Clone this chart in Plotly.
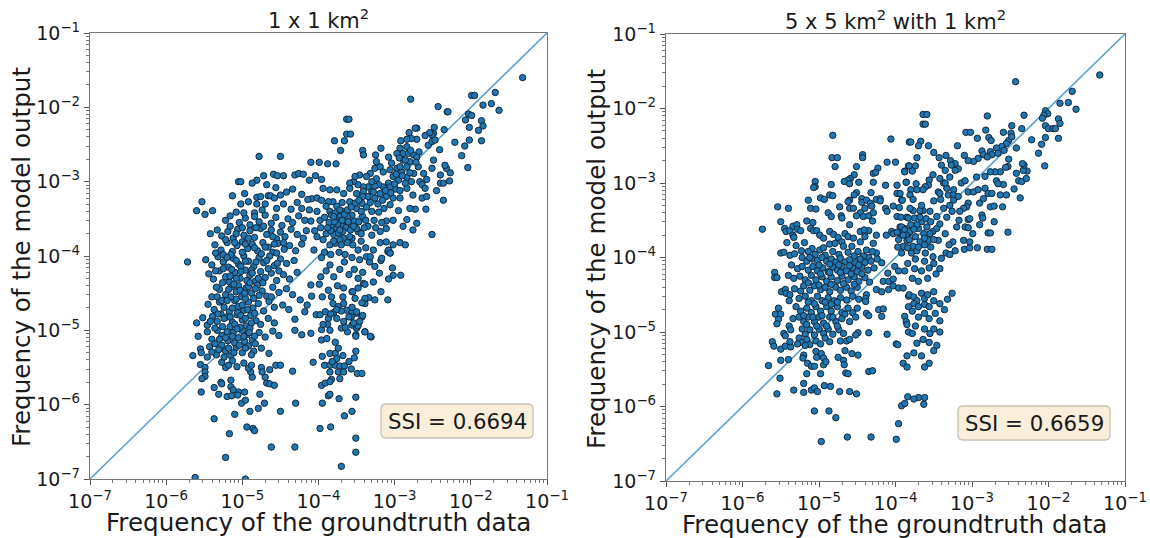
import plotly.graph_objects as go

# All values are log10(frequency) as (groundtruth, model output).
left_sparse = [
(-1.32,-1.60),(-2.79,-1.89),(-2.43,-1.99),(-2.31,-2.06),(-2.30,-2.06),(-1.99,-1.84),(-1.95,-1.84),(-1.68,-1.80),(-1.84,-1.97),(-1.73,-1.95),(-1.63,-2.04),
(-2.03,-2.09),(-1.99,-2.11),(-2.07,-2.17),(-1.86,-2.18),(-1.84,-2.25),(-1.90,-2.31),(-2.02,-2.27),(-2.02,-2.44),(-1.86,-2.45),(-2.21,-2.47),(-2.08,-2.52),(-2.12,-2.65),(-2.04,-2.81),
(-2.35,-2.30),(-2.48,-2.27),(-2.49,-2.35),(-2.51,-2.37),(-3.63,-2.16),(-3.60,-2.16),(-3.63,-2.36),(-3.58,-2.36),(-3.79,-2.45),(-3.66,-2.45),(-3.71,-2.58),
(-4.10,-2.74),(-3.99,-2.74),(-3.88,-2.76),(-3.77,-2.76),(-3.42,-2.58),(-3.41,-2.64),(-3.18,-2.55),(-3.25,-2.64),(-2.71,-2.28),(-2.73,-2.28),(-2.81,-2.34),(-2.92,-2.45),
(-4.78,-2.66),(-4.50,-2.66),(-4.72,-2.92),(-4.81,-2.98),(-4.87,-3.02),(-5.05,-3.00),(-5.02,-3.00),(-4.59,-2.90),(-4.54,-2.92),(-4.46,-2.92),(-4.31,-2.91),(-4.26,-2.89),(-4.20,-2.90),
(-4.12,-2.98),(-4.04,-2.92),(-3.96,-2.97),(-5.13,-3.19),(-4.97,-3.16),(-4.81,-3.21),(-4.76,-3.20),(-4.66,-3.19),(-4.63,-3.19),(-5.53,-3.27),(-5.60,-3.39),(-5.49,-3.44),(-5.39,-3.39),
(-5.02,-3.30),(-4.92,-3.27),(-5.08,-3.41),(-4.84,-3.42),(-4.81,-3.30),(-5.72,-4.08),
(-5.65,-5.34),(-5.55,-5.25),(-5.55,-5.46),(-5.49,-5.50),(-5.49,-5.56),(-5.49,-5.62),(-5.53,-5.65),(-5.54,-5.83),(-5.37,-5.77),(-5.31,-5.86),(-5.28,-5.70),(-5.37,-6.19),(-5.10,-6.13),
(-5.17,-6.39),(-5.22,-6.71),(-5.62,-6.98),(-4.96,-7.00),(-4.94,-6.30),(-4.86,-6.32),(-4.84,-6.35),(-4.62,-6.57),(-4.31,-6.57),(-4.90,-6.09),(-4.79,-6.05),(-4.71,-5.98),(-4.50,-6.09),(-4.30,-5.98),
(-4.77,-5.86),(-5.01,-5.98),(-4.96,-5.94),(-4.97,-5.83),(-5.05,-5.83),(-5.20,-5.89),(-5.14,-5.88),(-5.06,-5.87),(-5.15,-5.76),(-5.12,-5.80),(-5.27,-5.72),(-5.15,-5.67),
(-4.68,-5.71),(-4.64,-5.72),(-4.58,-5.74),(-4.70,-5.63),(-4.87,-5.63),(-4.89,-5.56),(-4.92,-5.51),(-4.75,-5.50),(-4.74,-5.56),(-4.64,-5.53),(-4.56,-5.47),(-4.50,-5.47),(-4.34,-5.55),
(-3.98,-6.32),(-3.84,-6.30),(-3.51,-6.64),(-3.70,-6.83),(-3.66,-6.15),(-3.56,-6.09),(-3.95,-5.98),(-3.73,-5.92),(-3.87,-5.88),(-3.85,-5.86),
(-2.92,-4.26),(-3.02,-4.26),(-3.03,-4.16),(-3.08,-4.31),(-3.18,-4.48),(-3.09,-4.59),(-3.18,-4.06),(-3.06,-3.96),(-3.09,-3.94),(-3.20,-4.23),(-3.26,-4.14),(-3.33,-4.08),
(-3.51,-5.28),(-3.53,-5.37),(-3.57,-5.52),(-3.49,-5.58),(-3.43,-5.58),(-3.51,-5.90),(-3.51,-6.45),
]
left_right_cluster = [
(-2.93,-2.55),(-2.84,-2.53),(-2.89,-2.62),(-2.97,-2.62),(-2.82,-2.62),(-2.75,-2.64),(-2.68,-2.60),(-2.71,-2.67),(-2.80,-2.73),(-2.89,-2.71),(-2.84,-2.80),(-2.91,-2.87),(-2.97,-2.82),(-3.04,-2.75),(-3.08,-2.67),
(-3.24,-2.73),(-3.26,-2.82),(-3.32,-2.89),(-3.37,-2.93),(-3.19,-2.80),(-3.15,-2.87),(-3.06,-2.84),(-2.95,-2.98),(-2.84,-2.94),(-2.75,-2.89),(-2.69,-2.80),(-2.62,-2.89),(-2.67,-3.00),(-2.58,-2.97),(-2.64,-3.04),(-2.60,-3.09),
(-2.51,-2.82),(-2.49,-2.71),(-2.41,-2.57),(-2.56,-2.51),(-2.51,-2.46),(-2.47,-2.44),(-2.60,-2.38),(-2.54,-2.34),(-2.71,-2.43),(-2.78,-2.42),(-2.84,-2.43),(-2.93,-2.80),(-3.02,-2.93),(-3.08,-3.02),(-3.15,-3.07),(-3.21,-3.04),(-3.26,-3.06),
(-3.35,-3.07),(-3.41,-3.07),(-3.48,-3.04),(-3.54,-3.00),(-3.59,-3.02),(-3.46,-2.91),(-3.52,-2.93),(-3.59,-3.09),(-3.50,-3.16),(-3.41,-3.13),(-3.30,-3.13),(-3.19,-3.16),(-3.11,-3.20),(-3.02,-3.22),(-2.93,-3.22),(-2.84,-3.09),(-2.76,-3.18),
(-2.64,-3.22),(-2.58,-3.20),(-2.45,-3.12),(-2.36,-3.25),(-2.40,-3.02),(-2.36,-3.02),(-2.28,-2.99),(-2.27,-2.88),(-2.32,-2.82),(-2.34,-2.78),(-2.40,-2.91),(-2.73,-3.37),(-2.80,-3.36),(-2.59,-3.37),(-2.84,-3.51),(-2.89,-3.60),(-2.71,-3.56),(-2.76,-3.65),
(-2.51,-3.71),(-2.95,-3.39),(-3.02,-3.52),(-3.11,-3.53),(-3.17,-3.55),(-3.11,-3.63),(-3.19,-3.67),(-3.30,-3.72),(-3.35,-3.60),(-3.48,-3.67),(-3.56,-3.76),(-3.67,-3.76),(-3.81,-3.60),(-3.74,-3.52),(-3.85,-3.40),(-3.81,-3.27),
(-3.94,-3.09),(-3.85,-3.11),(-3.76,-3.11),(-3.67,-3.16),(-4.09,-3.23),(-4.02,-3.22),(-3.96,-3.25),(-3.87,-3.27),(-4.22,-3.36),(-4.12,-3.38),(-4.02,-3.40),(-3.98,-3.52),(-4.10,-3.53),(-4.16,-3.66),(-4.05,-3.66),(-4.02,-3.74),(-3.94,-3.78),
(-3.85,-3.85),(-3.78,-3.83),(-3.72,-3.78),(-3.59,-3.74),(-3.48,-3.92),(-3.37,-4.01),(-3.28,-3.92),(-3.19,-3.82),(-3.11,-3.81),(-3.02,-3.85),(-2.93,-3.82),(-2.86,-3.85),(-3.08,-3.92),(-3.06,-3.96),(-3.17,-4.03),(-3.32,-4.01),
(-3.50,-3.63),(-3.59,-3.58),(-3.67,-3.56),(-3.76,-3.63),(-3.83,-3.45),(-3.67,-3.40),(-3.56,-3.45),(-3.50,-3.36),(-3.43,-3.29),(-3.37,-3.34),(-3.30,-3.40),(-3.21,-3.41),(-3.35,-3.20),(-3.26,-3.22),(-3.59,-3.27),(-3.52,-3.29),
(-3.78,-3.42),(-3.72,-3.47),(-3.70,-3.58),(-3.64,-3.62),(-3.80,-3.71),(-3.74,-3.69),(-3.86,-3.55),(-3.92,-3.48),(-3.62,-3.47),(-3.53,-3.53),(-3.42,-3.47),(-3.44,-3.40),(-3.76,-3.33),(-3.69,-3.28),(-3.90,-3.33),(-3.62,-3.82),(-3.55,-3.85),(-3.44,-3.80),
(-3.40,-3.62),(-3.27,-3.52),(-3.22,-3.30),(-3.14,-3.36),(-3.06,-3.31),(-3.92,-3.95),(-3.84,-3.98),(-3.73,-3.95),(-3.65,-3.98),(-3.56,-4.02),(-3.46,-4.05),(-3.38,-3.89),(-3.25,-3.62),(-3.68,-3.67),
(-3.96,-4.02),(-4.06,-3.92),(-3.90,-3.70),(-3.97,-3.62),(-2.99,-3.10),(-2.93,-3.12),(-3.06,-3.07),
(-3.78,-3.50),(-3.75,-3.57),(-3.69,-3.52),(-3.66,-3.44),(-3.61,-3.54),(-3.58,-3.65),(-3.72,-3.65),(-3.79,-3.54),(-3.84,-3.66),(-3.62,-3.38),(-3.57,-3.34),(-3.72,-3.38),(-3.80,-3.47),(-3.47,-3.54),(-3.38,-3.52),(-3.54,-3.60),(-3.44,-3.70),(-3.70,-3.85),(-3.80,-3.80),(-3.88,-3.62),
(-3.42,-3.20),(-3.47,-3.25),(-3.32,-3.28),(-3.28,-3.14),(-3.16,-3.25),(-3.24,-2.96),(-3.30,-3.00),(-3.12,-3.12),(-3.05,-3.15),(-2.98,-2.90),(-2.90,-2.92),(-2.80,-2.88),(-2.86,-3.02),(-2.78,-3.00),(-3.00,-3.03),(-2.72,-2.74),(-2.94,-2.68),(-2.79,-2.58),(-2.86,-2.71),
]
left_lower_cluster = [
(-4.07,-5.43),(-3.95,-5.35),(-3.92,-5.47),(-3.85,-5.47),(-3.78,-5.47),(-3.72,-5.48),(-3.66,-5.48),(-3.85,-5.31),(-3.78,-5.31),(-3.76,-5.38),(-3.74,-5.56),(-3.67,-5.56),(-3.85,-5.56),(-3.83,-5.66),(-3.72,-5.65),(-3.96,-5.74),(-3.91,-5.71),(-3.85,-5.69),
(-4.31,-5.00),(-4.22,-5.06),(-4.10,-5.04),(-3.96,-4.99),(-3.85,-5.00),(-3.96,-5.13),(-3.89,-5.11),(-3.78,-5.16),(-3.51,-5.06),(-3.39,-5.02),(-3.31,-5.09),
(-4.03,-4.79),(-3.98,-4.79),(-3.91,-4.75),(-3.87,-4.84),(-3.81,-4.64),(-3.74,-4.68),(-3.67,-4.64),(-3.63,-4.73),(-3.56,-4.75),(-3.50,-4.77),(-3.43,-4.82),(-3.76,-4.84),(-3.67,-4.88),(-3.56,-4.93),(-3.50,-4.97),
(-3.87,-4.46),(-3.83,-4.55),(-3.67,-4.43),(-3.56,-4.48),(-3.41,-4.37),(-3.28,-4.35),(-3.39,-4.64),(-3.26,-4.59),(-4.10,-4.39),(-3.99,-4.38),(-4.09,-4.54),(-4.15,-4.66),(-4.24,-4.59),(-4.18,-4.75),(-4.31,-4.85),
(-3.39,-4.38),(-3.48,-4.43),(-3.55,-4.48),(-3.34,-4.56),(-3.39,-4.57),(-3.43,-4.63),(-3.52,-4.57),(-3.42,-4.80),(-3.50,-4.75),(-3.56,-4.69),(-3.39,-5.02),(-3.32,-5.08),(-3.51,-5.08),(-3.50,-4.97),(-3.48,-4.94),(-3.57,-4.82),(-3.54,-4.90),
(-3.48,-4.30),(-3.60,-4.25),(-3.72,-4.18),(-3.80,-4.28),(-3.90,-4.20),(-3.66,-4.08),(-3.53,-4.18),(-3.42,-4.22),(-3.75,-4.40),(-3.95,-4.55),(-3.68,-4.55),(-3.85,-4.12),(-3.97,-4.28),(-3.88,-4.92),(-3.70,-4.97),(-3.62,-5.02),
(-3.80,-4.76),(-3.70,-4.74),(-3.60,-4.82),(-3.46,-4.88),(-3.65,-4.96),(-3.76,-4.72),(-3.84,-4.78),(-3.94,-4.92),(-3.74,-5.24),(-3.68,-5.34),(-3.60,-5.42),(-3.82,-5.42),
]
left_main_cluster = [
(-5.22,-3.52),(-5.16,-3.46),(-5.04,-3.55),(-4.96,-3.49),(-4.90,-3.58),(-4.84,-3.47),(-4.78,-3.54),(-4.70,-3.45),(-4.62,-3.56),(-4.56,-3.48),(-4.48,-3.59),(-4.40,-3.50),(-4.34,-3.55),(-4.26,-3.46),(-4.18,-3.52),
(-5.42,-3.70),(-5.33,-3.65),(-5.27,-3.73),(-5.19,-3.67),(-5.12,-3.76),(-5.06,-3.64),(-4.98,-3.72),(-4.90,-3.66),(-4.84,-3.75),(-4.76,-3.63),(-4.68,-3.71),(-4.62,-3.65),(-4.55,-3.77),(-4.50,-3.68),(-4.44,-3.74),(-4.36,-3.64),(-4.28,-3.71),(-4.20,-3.76),
(-5.36,-3.85),(-5.28,-3.92),(-5.20,-3.82),(-5.13,-3.94),(-5.07,-3.86),(-5.00,-3.81),(-4.93,-3.90),(-4.87,-3.84),(-4.80,-3.93),(-4.73,-3.82),(-4.66,-3.88),(-4.60,-3.95),(-4.53,-3.83),(-4.45,-3.91),(-4.38,-3.86),(-4.30,-3.93),(-4.22,-3.84),
(-5.48,-4.05),(-5.40,-4.12),(-5.32,-4.01),(-5.25,-4.08),(-5.18,-4.15),(-5.12,-4.03),(-5.05,-4.11),(-4.98,-4.00),(-4.92,-4.07),(-4.85,-4.14),(-4.78,-4.02),(-4.72,-4.09),(-4.64,-4.00),(-4.58,-4.13),(-4.50,-4.04),(-4.42,-4.10),(-4.32,-4.06),
(-5.44,-4.24),(-5.38,-4.31),(-5.30,-4.20),(-5.22,-4.28),(-5.17,-4.35),(-5.10,-4.22),(-5.03,-4.30),(-4.96,-4.19),(-4.90,-4.26),(-4.83,-4.34),(-4.76,-4.21),(-4.70,-4.29),(-4.62,-4.23),(-4.55,-4.33),(-4.46,-4.25),(-4.38,-4.31),(-4.28,-4.22),
(-5.30,-4.45),(-5.22,-4.52),(-5.14,-4.41),(-5.08,-4.48),(-5.01,-4.55),(-4.95,-4.43),(-4.88,-4.50),(-4.80,-4.39),(-4.74,-4.47),(-4.68,-4.54),(-4.60,-4.42),(-4.52,-4.49),(-4.42,-4.44),(-4.34,-4.52),
(-5.45,-4.65),(-5.37,-4.72),(-5.30,-4.62),(-5.24,-4.69),(-5.17,-4.75),(-5.10,-4.60),(-5.05,-4.68),(-4.98,-4.73),(-4.92,-4.62),(-4.86,-4.70),(-4.79,-4.64),(-4.72,-4.74),(-4.65,-4.61),(-4.58,-4.69),(-4.47,-4.66),(-4.39,-4.72),
(-5.60,-4.90),(-5.52,-4.83),(-5.46,-4.93),(-5.39,-4.81),(-5.33,-4.88),(-5.26,-4.95),(-5.20,-4.82),(-5.13,-4.89),(-5.07,-4.79),(-5.00,-4.86),(-4.95,-4.94),(-4.89,-4.80),(-4.82,-4.87),(-4.76,-4.92),(-4.66,-4.84),(-4.58,-4.90),
(-5.58,-5.08),(-5.46,-5.02),(-5.40,-5.12),(-5.33,-5.00),(-5.27,-5.07),(-5.19,-5.14),(-5.12,-5.03),(-5.05,-5.10),(-5.00,-5.00),(-4.94,-5.06),(-4.87,-5.13),(-4.78,-5.03),(-4.70,-5.09),(-4.60,-5.01),(-4.52,-5.07),
(-5.54,-5.30),(-5.43,-5.22),(-5.34,-5.33),(-5.27,-5.20),(-5.22,-5.28),(-5.15,-5.34),(-5.08,-5.23),(-5.00,-5.30),(-4.92,-5.21),(-4.85,-5.28),(-4.75,-5.24),(-4.65,-5.31),
(-5.27,-5.43),(-5.22,-5.50),(-5.13,-5.41),(-5.07,-5.49),(-4.98,-5.44),(-4.88,-5.47),(-5.24,-5.36),(-5.18,-5.47),
(-5.35,-3.96),(-5.25,-3.98),(-5.15,-3.98),(-5.00,-3.95),(-4.75,-3.97),(-4.55,-3.96),(-5.35,-4.20),(-5.25,-4.17),(-5.14,-4.18),(-5.02,-4.14),(-4.88,-4.19),(-4.66,-4.17),(-4.52,-4.20),(-5.34,-4.42),(-5.26,-4.36),(-5.15,-4.55),(-5.05,-4.40),(-4.92,-4.41),(-4.78,-4.53),(-4.62,-4.55),
(-5.40,-4.55),(-5.33,-4.55),(-5.27,-4.60),(-5.20,-4.60),(-5.08,-4.58),(-4.96,-4.57),(-4.85,-4.57),(-5.42,-4.88),(-5.36,-4.97),(-5.28,-4.78),(-5.16,-4.95),(-5.03,-4.96),(-4.90,-4.97),(-5.22,-5.10),(-5.10,-5.17),(-4.97,-5.15),(-4.83,-5.18),
(-4.98,-3.42),(-4.74,-3.38),(-4.55,-3.36),(-4.46,-3.30),(-4.36,-3.37),(-4.28,-3.28),(-4.70,-3.30),(-4.58,-3.22),(-4.50,-3.18),(-4.42,-3.14),(-4.34,-3.10),(-4.22,-3.17),(-4.14,-3.24),(-4.68,-3.04),(-4.56,-3.08),
(-5.16,-4.27),(-5.08,-4.30),(-5.02,-4.21),(-4.94,-4.33),(-4.87,-4.23),(-4.79,-4.30),(-4.73,-4.36),(-5.18,-4.45),(-5.11,-4.38),(-5.03,-4.46),(-4.97,-4.50),(-4.90,-4.36),(-4.83,-4.44),(-5.13,-4.70),(-5.06,-4.76),(-5.00,-4.66),(-4.93,-4.72),(-4.84,-4.77),(-5.24,-4.84),(-5.16,-4.82),(-5.10,-4.92),(-5.02,-4.80),(-4.96,-4.84),(-4.88,-4.90),
(-5.32,-4.78),(-5.20,-5.02),(-5.13,-5.08),(-5.07,-4.98),(-4.98,-5.08),(-4.91,-5.03),(-4.84,-5.08),(-5.30,-5.12),(-5.36,-5.18),(-5.18,-5.24),(-5.11,-5.30),(-5.04,-5.20),(-4.96,-5.24),(-4.88,-5.33),(-5.31,-5.26),(-5.40,-5.29),(-5.46,-5.36),
(-5.16,-3.60),(-5.08,-3.70),(-5.00,-3.62),(-4.92,-3.76),(-4.82,-3.62),(-4.72,-3.60),(-4.60,-3.74),(-5.22,-3.78),(-5.10,-3.82),(-4.96,-3.84),(-4.84,-3.89),(-4.70,-3.88),(-4.58,-3.84),(-4.46,-3.82),(-5.20,-4.02),(-5.08,-4.06),(-4.96,-4.07),(-4.82,-4.08),(-4.68,-4.06),(-4.54,-4.10),
]

right_sparse = [
(-1.33,-1.55),(-2.43,-1.64),(-1.69,-1.77),(-1.85,-1.93),(-1.74,-1.92),(-1.64,-2.01),(-2.04,-2.03),(-2.01,-2.07),(-2.06,-2.09),(-2.08,-2.13),(-1.87,-2.14),(-1.85,-2.20),(-2.04,-2.23),(-2.00,-2.27),(-1.94,-2.27),(-1.91,-2.27),
(-1.87,-2.40),(-2.04,-2.39),(-2.09,-2.48),(-2.13,-2.60),(-2.05,-2.77),(-2.22,-2.42),(-2.32,-2.09),(-2.80,-2.10),(-3.64,-2.08),(-3.59,-2.08),(-3.64,-2.21),(-3.61,-2.21),(-3.08,-2.32),(-3.02,-2.32),(-2.82,-2.29),(-2.93,-2.40),(-2.78,-2.39),(-2.75,-2.43),
(-2.59,-2.32),(-2.48,-2.23),(-2.49,-2.33),(-2.35,-2.27),
(-4.82,-2.36),(-4.06,-2.41),(-3.82,-2.45),(-4.83,-2.66),(-4.76,-2.66),(-4.79,-2.78),(-4.43,-2.62),(-4.43,-2.66),(-4.51,-2.78),(-4.11,-2.72),(-4.00,-2.72),(-3.83,-2.77),(-4.23,-2.80),(-4.29,-2.87),(-4.26,-2.86),(-3.88,-2.84),
(-4.54,-2.89),(-4.59,-2.94),(-4.62,-2.96),(-4.67,-2.98),(-4.60,-3.01),(-4.48,-2.99),(-5.05,-2.98),(-5.05,-3.05),(-5.07,-3.06),(-4.84,-3.02),(-4.29,-2.99),(-4.13,-3.03),(-3.98,-3.03),(-3.86,-2.99),(-4.32,-3.13),(-4.51,-3.13),(-4.54,-3.16),
(-4.86,-3.16),(-4.82,-3.17),(-3.98,-3.14),(-3.94,-3.14),(-4.98,-3.20),(-4.93,-3.22),(-5.14,-3.23),(-5.54,-3.32),(-5.40,-3.34),(-5.11,-3.34),(-5.04,-3.35),(-4.73,-3.32),(-4.88,-3.40),(-4.84,-3.45),(-4.71,-3.44),(-4.70,-3.47),
(-4.60,-3.23),(-4.62,-3.25),(-4.60,-3.34),(-4.55,-3.34),(-4.44,-3.21),(-4.44,-3.26),(-4.38,-3.23),(-4.33,-3.27),(-4.31,-3.31),(-4.40,-3.34),(-4.25,-3.22),(-4.20,-3.21),(-4.20,-3.24),(-4.46,-3.40),(-4.51,-3.44),(-4.42,-3.45),(-4.35,-3.44),(-4.29,-3.40),(-4.30,-3.51),
(-4.13,-3.34),(-4.11,-3.38),(-4.03,-3.31),(-3.95,-3.33),(-3.92,-3.23),(-3.98,-3.45),(-3.93,-3.46),(-3.85,-3.46),(-5.74,-3.62),(-5.50,-3.52),(-5.45,-3.61),(-5.43,-3.65),(-5.38,-3.64),(-5.34,-3.58),(-5.29,-3.56),(-5.28,-3.62),(-5.24,-3.64),(-5.34,-3.70),(-5.33,-3.73),
(-5.16,-3.51),(-5.08,-3.53),(-5.11,-3.61),(-5.07,-3.64),
(-5.58,-4.20),(-5.58,-4.27),(-5.55,-4.27),(-5.49,-4.46),(-5.44,-4.43),(-5.43,-4.48),(-5.38,-4.50),(-5.39,-4.58),(-5.53,-4.68),(-5.57,-4.76),(-5.50,-4.76),(-5.53,-4.83),(-5.55,-4.89),(-5.39,-4.92),(-5.37,-4.97),(-5.46,-5.02),(-5.44,-5.05),
(-5.61,-5.13),(-5.59,-5.19),(-5.50,-5.23),(-5.44,-5.19),(-5.37,-5.20),(-5.38,-5.13),(-5.66,-5.45),(-5.50,-5.38),(-5.40,-5.37),(-5.51,-5.62),(-5.55,-5.83),(-5.33,-5.78),(-5.20,-5.81),(-5.20,-5.69),(-5.10,-5.78),(-5.06,-5.75),(-5.02,-5.80),(-4.93,-5.72),(-4.85,-5.73),
(-4.73,-5.80),(-4.60,-5.80),(-4.51,-5.83),(-5.06,-6.06),(-4.87,-6.06),(-4.78,-6.15),(-4.97,-6.47),(-4.63,-6.41),(-4.32,-6.41),(-3.99,-6.44),(-3.96,-6.23),(-3.92,-5.99),(-3.88,-5.96),(-3.84,-5.87),(-5.16,-5.56),(-4.98,-5.56),
(-5.15,-5.42),(-5.10,-5.46),(-5.06,-5.46),(-5.20,-5.31),(-5.21,-5.35),(-5.04,-5.26),(-5.03,-5.34),(-4.97,-5.29),(-4.94,-5.35),(-4.94,-5.44),(-4.91,-5.40),(-4.75,-5.34),(-4.68,-5.38),(-4.67,-5.44),(-4.65,-5.55),(-4.62,-5.56),(-4.57,-5.29),(-4.49,-5.31),(-4.66,-5.25),
(-4.35,-5.53),(-4.30,-5.52),(-4.35,-5.01),(-4.49,-5.01),(-4.52,-5.04),(-4.11,-5.03),(-3.99,-5.16),(-3.97,-5.17),(-3.85,-5.32),(-3.90,-5.42),(-3.85,-5.47),(-4.18,-4.79),(-4.22,-4.70),(-4.16,-4.69),(-4.38,-4.75),(-4.35,-4.78),(-4.38,-4.50),(-4.39,-4.55),(-4.39,-4.59),
(-4.25,-4.43),(-4.18,-4.46),(-4.09,-4.43),(-4.03,-4.38),(-3.96,-4.41),(-3.90,-4.41),(-3.83,-4.52),(-3.83,-4.66),(-4.16,-4.32),(-4.09,-4.32),(-4.03,-4.29),(-4.10,-4.21),(-4.01,-4.12),(-3.96,-4.18),(-3.88,-4.18),(-3.88,-4.79),(-3.86,-4.86),(-3.83,-5.00),(-3.85,-4.90),
(-3.70,-5.88),(-3.76,-5.90),(-3.63,-5.97),(-3.55,-5.02),(-3.50,-5.25),(-3.56,-5.42),(-3.62,-5.47),(-3.62,-5.88),
]
right_upper_cluster = [
(-5.03,-3.64),(-4.99,-3.70),(-4.94,-3.74),(-4.86,-3.65),(-4.81,-3.69),(-4.75,-3.73),(-4.66,-3.68),(-4.60,-3.56),(-4.62,-3.72),(-4.55,-3.74),(-4.46,-3.65),(-4.40,-3.72),(-4.35,-3.64),(-4.25,-3.70),(-4.41,-3.63),(-4.29,-3.81),(-4.25,-3.94),(-4.12,-3.70),(-4.05,-3.65),(-3.94,-3.59),(-3.88,-3.61),(-3.83,-3.68),(-3.94,-3.68),(-4.03,-3.68),
(-5.19,-3.80),(-5.50,-3.94),(-5.23,-3.91),(-5.09,-3.88),(-4.99,-3.90),(-4.94,-3.87),(-4.86,-3.82),(-4.79,-3.81),(-4.70,-3.79),(-4.68,-3.85),(-4.57,-3.85),(-4.46,-3.79),(-4.49,-3.92),(-4.38,-3.90),(-4.35,-4.00),
(-3.05,-3.12),(-2.98,-3.12),(-2.92,-3.09),(-2.83,-3.07),(-2.79,-3.14),(-2.74,-3.14),(-2.63,-3.16),(-2.55,-3.16),(-2.45,-3.08),(-2.37,-3.20),(-2.39,-2.97),(-2.35,-2.98),(-2.42,-2.87),(-2.29,-2.94),(-2.28,-2.84),(-2.33,-2.83),(-2.32,-2.76),(-2.34,-2.74),(-2.52,-2.68),(-2.53,-2.78),(-2.56,-2.79),(-2.63,-2.85),(-2.70,-2.85),(-2.76,-2.85),(-2.83,-2.91),(-2.94,-2.92),(-2.59,-3.02),(-2.68,-2.97),(-2.66,-3.01),
(-2.52,-2.43),(-2.48,-2.38),(-2.55,-2.47),(-2.61,-2.51),(-2.68,-2.53),(-2.76,-2.58),(-2.87,-2.57),(-2.85,-2.62),(-2.92,-2.67),(-2.98,-2.71),(-3.05,-2.70),(-3.10,-2.63),(-3.19,-2.50),(-2.42,-2.53),(-2.74,-2.62),(-2.66,-2.60),(-2.80,-2.65),(-2.58,-2.56),
(-3.80,-2.45),(-3.67,-2.44),(-3.70,-2.50),(-3.57,-2.50),(-3.50,-2.59),(-3.72,-2.66),(-3.43,-2.66),(-3.34,-2.63),(-3.82,-2.77),(-3.74,-2.77),(-3.88,-2.85),(-3.78,-2.84),(-3.40,-2.76),(-3.28,-2.70),(-3.22,-2.74),(-3.27,-2.76),(-3.35,-2.83),(-3.42,-2.94),(-3.51,-2.89),(-3.29,-2.92),(-3.18,-2.81),(-3.22,-2.83),
(-3.86,-2.99),(-3.73,-3.01),(-3.56,-2.96),(-3.57,-3.03),(-3.61,-3.05),(-3.80,-3.09),(-3.72,-3.09),(-3.64,-3.09),(-3.81,-3.16),(-3.77,-3.22),(-3.91,-3.23),(-3.37,-3.00),(-3.33,-3.07),(-3.35,-3.00),(-3.24,-3.09),(-3.44,-3.12),(-3.42,-3.14),(-3.31,-3.16),(-3.24,-3.16),(-3.18,-3.18),(-3.14,-3.00),(-3.09,-2.97),
(-2.90,-3.27),(-2.85,-3.21),(-2.76,-3.32),(-2.71,-3.31),(-2.60,-3.32),(-2.71,-3.52),(-2.79,-3.67),(-2.76,-3.67),(-2.53,-3.66),(-2.87,-3.43),(-2.86,-3.47),(-3.05,-3.49),(-3.03,-3.48),(-3.17,-3.50),(-3.20,-3.59),(-3.09,-3.59),(-3.05,-3.60),(-2.99,-3.68),(-2.90,-3.56),(-3.11,-3.77),(-3.03,-3.79),(-2.93,-3.87),(-3.10,-3.89),(-3.03,-3.87),(-3.25,-3.79),(-3.30,-3.83),(-3.22,-3.91),(-3.34,-3.94),(-3.29,-3.96),(-3.40,-4.01),(-2.80,-3.89),(-2.74,-3.89),
(-3.05,-3.27),(-3.07,-3.32),(-3.11,-3.34),(-3.16,-3.38),(-3.24,-3.23),(-3.29,-3.30),(-3.37,-3.34),(-3.46,-3.45),(-3.55,-3.38),(-3.64,-3.37),(-3.68,-3.37),(-3.77,-3.37),(-3.81,-3.34),(-3.75,-3.47),(-3.83,-3.47),(-3.66,-3.52),(-3.70,-3.61),(-3.59,-3.59),(-3.51,-3.65),(-3.46,-3.61),(-3.55,-3.68),(-3.44,-3.77),(-3.57,-3.77),(-3.68,-3.79),(-3.77,-3.85),(-3.85,-3.77),(-3.92,-3.59),(-3.88,-3.63),(-3.81,-3.65),(-3.90,-3.85),(-3.79,-3.94),(-3.61,-3.94),(-3.51,-3.99),(-3.92,-3.94),
(-3.86,-3.70),(-3.74,-3.72),(-3.63,-3.68),(-3.72,-3.56),(-3.62,-3.83),(-3.72,-3.91),(-3.84,-3.87),(-3.54,-3.86),(-3.96,-3.76),(-3.97,-3.86),(-3.66,-3.30),(-3.50,-3.24),(-3.41,-3.22),(-3.42,-3.55),(-3.33,-3.46),(-3.26,-3.38),(-3.35,-3.68),
(-3.74,-4.02),(-3.62,-4.05),(-3.50,-4.08),(-3.42,-4.15),(-3.84,-4.08),(-3.75,-4.15),(-3.66,-4.18),(-3.56,-4.14),(-3.78,-4.28),(-3.58,-4.28),(-3.70,-4.32),(-3.47,-4.22),
(-3.80,-3.56),(-3.76,-3.62),(-3.68,-3.46),(-3.60,-3.48),(-3.54,-3.52),(-3.62,-3.74),(-3.50,-3.76),(-3.82,-3.76),(-3.70,-3.86),(-3.90,-3.70),(-3.98,-3.66),
]
right_lower_cluster = [
(-3.82,-4.50),(-3.76,-4.53),(-3.72,-4.58),(-3.66,-4.48),(-3.62,-4.55),(-3.58,-4.50),(-3.50,-4.46),(-3.76,-4.62),(-3.70,-4.66),(-3.62,-4.63),(-3.56,-4.66),(-3.50,-4.58),(-3.42,-4.62),(-3.36,-4.70),(-3.78,-4.72),(-3.70,-4.80),(-3.62,-4.75),(-3.56,-4.82),(-3.48,-4.75),(-3.42,-4.85),(-3.74,-4.92),(-3.62,-4.96),(-3.50,-4.96),(-3.42,-5.00),(-3.32,-4.56),(-3.26,-4.48),
(-3.78,-5.02),(-3.72,-5.15),(-3.64,-5.10),(-3.56,-5.14),(-3.46,-5.18),(-3.76,-5.28),(-3.66,-5.32),
]
right_main_cluster = [
(-5.42,-3.80),(-5.30,-3.84),(-5.14,-3.92),(-5.05,-3.96),(-4.92,-3.97),(-4.82,-3.92),(-4.74,-3.96),(-4.62,-3.93),(-4.54,-3.98),(-4.42,-3.98),(-4.30,-3.92),
(-5.46,-3.93),(-5.38,-3.97),(-5.32,-3.95),(-5.22,-4.00),(-5.16,-4.05),(-5.09,-4.02),(-5.02,-4.04),(-4.96,-4.00),(-4.90,-4.05),(-4.84,-4.02),(-4.78,-4.06),(-4.72,-4.01),(-4.66,-4.06),(-4.60,-4.03),(-4.52,-4.07),(-4.46,-4.02),(-4.40,-4.07),(-4.32,-4.05),(-4.24,-4.02),(-4.18,-4.07),
(-5.36,-4.10),(-5.28,-4.15),(-5.22,-4.12),(-5.14,-4.17),(-5.08,-4.12),(-5.02,-4.18),(-4.95,-4.14),(-4.88,-4.19),(-4.82,-4.13),(-4.76,-4.17),(-4.70,-4.12),(-4.64,-4.18),(-4.56,-4.14),(-4.50,-4.19),(-4.44,-4.13),(-4.36,-4.17),(-4.28,-4.14),
(-5.40,-4.24),(-5.33,-4.28),(-5.25,-4.25),(-5.18,-4.30),(-5.10,-4.24),(-5.04,-4.30),(-4.96,-4.26),(-4.90,-4.32),(-4.84,-4.26),(-4.76,-4.31),(-4.70,-4.25),(-4.62,-4.30),(-4.54,-4.26),(-4.48,-4.32),(-4.40,-4.27),(-4.34,-4.33),
(-5.32,-4.42),(-5.24,-4.45),(-5.20,-4.38),(-5.12,-4.44),(-5.06,-4.38),(-4.98,-4.43),(-4.92,-4.40),(-4.86,-4.46),(-4.78,-4.40),(-4.72,-4.44),(-4.64,-4.40),(-4.58,-4.45),(-4.50,-4.40),
(-5.26,-4.55),(-5.18,-4.52),(-5.10,-4.58),(-5.02,-4.52),(-4.96,-4.58),(-4.88,-4.54),(-4.80,-4.58),(-4.72,-4.54),(-4.64,-4.57),(-4.56,-4.52),(-4.48,-4.56),
(-5.30,-4.66),(-5.24,-4.72),(-5.16,-4.68),(-5.10,-4.74),(-5.04,-4.66),(-4.98,-4.72),(-4.90,-4.66),(-4.84,-4.72),(-4.76,-4.66),(-4.70,-4.74),(-4.62,-4.68),(-4.56,-4.74),(-4.50,-4.68),
(-5.34,-4.82),(-5.26,-4.80),(-5.20,-4.86),(-5.14,-4.80),(-5.06,-4.86),(-5.00,-4.80),(-4.94,-4.88),(-4.86,-4.80),(-4.78,-4.86),(-4.70,-4.82),(-4.60,-4.86),(-4.52,-4.80),
(-5.22,-4.96),(-5.18,-5.03),(-5.12,-4.97),(-5.06,-5.04),(-5.00,-4.96),(-4.94,-5.02),(-4.88,-4.96),(-4.82,-5.03),(-4.74,-4.97),(-4.68,-5.02),
(-5.26,-5.08),(-5.22,-5.14),(-5.16,-5.10),(-5.12,-5.17),(-5.04,-5.12),(-4.98,-5.16),(-4.92,-5.08),(-4.86,-5.13),(-4.72,-5.12),(-4.64,-5.12),(-4.60,-5.10),(-5.28,-5.16),(-5.18,-5.18),
(-5.12,-4.00),(-5.00,-4.10),(-4.86,-4.09),(-4.74,-4.10),(-4.60,-4.11),(-4.48,-4.10),(-4.98,-4.22),(-4.86,-4.20),(-4.72,-4.20),(-4.58,-4.22),(-4.44,-4.22),(-5.14,-4.34),(-5.00,-4.37),(-4.84,-4.36),(-4.68,-4.35),(-4.54,-4.36),
(-5.14,-4.60),(-5.06,-4.62),(-4.92,-4.60),(-4.84,-4.63),(-4.76,-4.60),(-5.20,-4.78),(-5.08,-4.80),(-4.96,-4.78),(-4.82,-4.80),(-4.66,-4.76),(-5.16,-4.90),(-5.03,-4.92),(-4.90,-4.92),(-4.76,-4.92),
]

GROUP_LEFT = left_sparse + left_right_cluster + left_lower_cluster + left_main_cluster
GROUP_RIGHT = right_sparse + right_upper_cluster + right_lower_cluster + right_main_cluster

left_x = [10 ** p[0] for p in GROUP_LEFT]
left_y = [10 ** p[1] for p in GROUP_LEFT]
right_x = [10 ** p[0] for p in GROUP_RIGHT]
right_y = [10 ** p[1] for p in GROUP_RIGHT]

diagonal = [1e-7, 1e-1]
decades = [-7, -6, -5, -4, -3, -2, -1]
major_vals = [10.0 ** d for d in decades]
major_text = [f"10<sup>\u2212{abs(d)}</sup>" for d in decades]
minor_vals = [m * 10.0 ** d for d in decades[:-1] for m in range(2, 10)]

W, H = 1150, 538
fx = lambda v: v / W
fy = lambda v: 1 - v / H
FONT = "DejaVu Sans"
INK = "#1a1a1a"

fig = go.Figure()
panels = [
    ("x", "y", left_x, left_y, (90, 547), (33, 479)),
    ("x2", "y2", right_x, right_y, (666, 1125), (34, 481)),
]
for xa, ya, xs, ys, _, _ in panels:
    fig.add_trace(go.Scatter(x=diagonal, y=diagonal, xaxis=xa, yaxis=ya, mode="lines",
                             line=dict(color="#5a9ecf", width=1.6), hoverinfo="skip", showlegend=False))
    fig.add_trace(go.Scatter(x=xs, y=ys, xaxis=xa, yaxis=ya, mode="markers",
                             marker=dict(size=6.4, color="#1f77b4", line=dict(color="#14283a", width=1)),
                             showlegend=False))

def axis_style(domain, anchor):
    return dict(type="log", range=[-7, -1], domain=domain, anchor=anchor, automargin=False,
                tickmode="array", tickvals=major_vals, ticktext=major_text,
                ticks="outside", ticklen=5, tickwidth=1, tickcolor="#555555",
                minor=dict(tickmode="array", tickvals=minor_vals, ticks="outside", ticklen=3,
                           tickwidth=0.8, tickcolor="#777777", showgrid=False),
                showline=True, linecolor="#777777", linewidth=1.3, mirror=True,
                showgrid=False, zeroline=False,
                tickfont=dict(family=FONT, size=19, color=INK))

(l1, r1), (t1, b1) = panels[0][4], panels[0][5]
(l2, r2), (t2, b2) = panels[1][4], panels[1][5]
fig.update_layout(
    width=W, height=H, paper_bgcolor="white", plot_bgcolor="white",
    margin=dict(l=0, r=0, t=0, b=0), showlegend=False,
    xaxis=axis_style([fx(l1), fx(r1)], "y"),
    yaxis=axis_style([fy(b1), fy(t1)], "x"),
    xaxis2=axis_style([fx(l2), fx(r2)], "y2"),
    yaxis2=axis_style([fy(b2), fy(t2)], "x2"),
)

def rounded_box(x0, y0, x1, y1, r=5):
    return (f"M {fx(x0 + r)} {fy(y0)} L {fx(x1 - r)} {fy(y0)} Q {fx(x1)} {fy(y0)} {fx(x1)} {fy(y0 + r)} "
            f"L {fx(x1)} {fy(y1 - r)} Q {fx(x1)} {fy(y1)} {fx(x1 - r)} {fy(y1)} "
            f"L {fx(x0 + r)} {fy(y1)} Q {fx(x0)} {fy(y1)} {fx(x0)} {fy(y1 - r)} "
            f"L {fx(x0)} {fy(y0 + r)} Q {fx(x0)} {fy(y0)} {fx(x0 + r)} {fy(y0)} Z")

for (x0, y0, x1, y1), text in [((381, 404, 533, 438), "SSI = 0.6694"), ((958, 406, 1110, 440), "SSI = 0.6659")]:
    fig.add_shape(type="path", xref="paper", yref="paper", path=rounded_box(x0, y0, x1, y1),
                  fillcolor="#f8eeda", line=dict(color="#c9c1b4", width=1.3), layer="above")
    fig.add_annotation(xref="paper", yref="paper", x=fx((x0 + x1) / 2), y=fy((y0 + y1) / 2),
                       text=text, showarrow=False, xanchor="center", yanchor="middle",
                       font=dict(family=FONT, size=21.3, color=INK))

for cx, cy, text in [((l1 + r1) / 2, 19, "1 x 1 km<sup>2</sup>"), ((l2 + r2) / 2, 20, "5 x 5 km<sup>2</sup> with 1 km<sup>2</sup>")]:
    fig.add_annotation(xref="paper", yref="paper", x=fx(cx), y=fy(cy), text=text, showarrow=False,
                       xanchor="center", yanchor="middle", font=dict(family=FONT, size=21, color=INK))

for cx, cy, angle, text in [
    (318, 522, 0, "Frequency of the groundtruth data"),
    (895, 524, 0, "Frequency of the groundtruth data"),
    (22, 257, -90, "Frequency of the model output"),
    (596, 259, -90, "Frequency of the model output"),
]:
    fig.add_annotation(xref="paper", yref="paper", x=fx(cx), y=fy(cy), text=text, showarrow=False,
                       textangle=angle, xanchor="center", yanchor="middle",
                       font=dict(family=FONT, size=24.6, color=INK))

fig.write_html("out.html", config={"displayModeBar": False},
               post_script="document.body.style.margin='0';document.documentElement.style.overflow='hidden';")
